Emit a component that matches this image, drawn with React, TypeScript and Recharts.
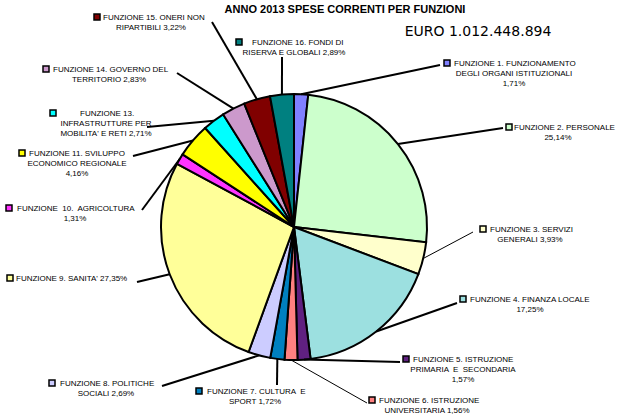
import React from "react";
import { PieChart, Pie, Cell } from "recharts";

const names = [
  "FUNZIONE 1. FUNZIONAMENTO\nDEGLI ORGANI ISTITUZIONALI\n{p}",
  "FUNZIONE 2. PERSONALE\n{p}",
  "FUNZIONE 3. SERVIZI\nGENERALI {p}",
  "FUNZIONE 4. FINANZA LOCALE\n{p}",
  "FUNZIONE 5. ISTRUZIONE\nPRIMARIA  E  SECONDARIA\n{p}",
  "FUNZIONE 6. ISTRUZIONE\nUNIVERSITARIA {p}",
  "FUNZIONE 7. CULTURA  E\nSPORT {p}",
  "FUNZIONE 8. POLITICHE\nSOCIALI {p}",
  "FUNZIONE 9. SANITA' {p}",
  "FUNZIONE  10.  AGRICOLTURA\n{p}",
  "FUNZIONE 11. SVILUPPO\nECONOMICO REGIONALE\n{p}",
  "FUNZIONE 13.\nINFRASTRUTTURE PER\nMOBILITA' E RETI {p}",
  "FUNZIONE 14. GOVERNO DEL\nTERRITORIO {p}",
  "FUNZIONE 15. ONERI NON\nRIPARTIBILI {p}",
  "FUNZIONE 16. FONDI DI\nRISERVA E GLOBALI {p}",
];

const values = [1.71, 25.14, 3.93, 17.25, 1.57, 1.56, 1.72, 2.69, 27.35, 1.31, 4.16, 2.71, 2.83, 3.22, 2.89];

const colors = [
  "#8080FF", "#CCFFCC", "#FFFFCC", "#9CE0E0", "#602080", "#FF8080", "#0080C0", "#CCCCFF",
  "#FFFF99", "#FF33FF", "#FFFF00", "#00FFFF", "#CC99CC", "#800000", "#008080",
];

const title = "ANNO 2013 SPESE CORRENTI PER FUNZIONI";
const subtitle = "EURO 1.012.448.894";

// label layout: marker centre (mx,my), first-line start x (fx), other lines centre (tx), leader end (lx,ly), leader width (w)
const labelLayout = [
  { mx: 447, my: 63, fx: 454, tx: 514, lx: 440, ly: 65, w: 2 },
  { mx: 509, my: 127, fx: 514, tx: 558, lx: 503, ly: 128, w: 2 },
  { mx: 483, my: 229, fx: 490, tx: 530, lx: 473, ly: 232, w: 1 },
  { mx: 463, my: 299, fx: 470, tx: 530, lx: 457, ly: 303, w: 2 },
  { mx: 406, my: 359, fx: 413, tx: 463, lx: 400, ly: 362, w: 2 },
  { mx: 372, my: 400, fx: 379, tx: 427, lx: 367, ly: 403, w: 1 },
  { mx: 199, my: 391, fx: 207, tx: 255, lx: 277, ly: 385, w: 2 },
  { mx: 52, my: 383, fx: 60, tx: 106, lx: 162, ly: 386, w: 2 },
  { mx: 10, my: 278, fx: 16, tx: 70, lx: 137, ly: 282, w: 2 },
  { mx: 9, my: 208, fx: 17, tx: 75, lx: 142, ly: 210, w: 2 },
  { mx: 22, my: 153, fx: 29, tx: 77, lx: 133, ly: 156, w: 2 },
  { mx: 53, my: 113, fx: 80, tx: 106, lx: 147, ly: 127, w: 2 },
  { mx: 46, my: 69, fx: 53, tx: 109, lx: 177, ly: 73, w: 2 },
  { mx: 97, my: 17, fx: 103, tx: 151, lx: 212, ly: 22, w: 2 },
  { mx: 239, my: 42, fx: 252, tx: 294, lx: 282, ly: 57, w: 2 },
];

const data = values.map((v, i) => ({ name: names[i], value: v }));

const FONT = "'Liberation Sans', Arial, sans-serif";

const renderLabel = (props: any) => {
  const { cx, cy, midAngle, outerRadius, index } = props;
  const L = labelLayout[index];
  const rad = Math.PI / 180;
  const ex = cx + outerRadius * Math.cos(-midAngle * rad);
  const ey = cy + outerRadius * Math.sin(-midAngle * rad);
  const pct = values[index].toFixed(2).replace(".", ",") + "%";
  const lines = names[index].replace("{p}", pct).split("\n");
  return (
    <g key={"lbl" + index}>
      <line x1={ex} y1={ey} x2={L.lx} y2={L.ly} stroke="#000" strokeWidth={L.w} />
      <rect x={L.mx - 3} y={L.my - 3} width={6} height={6} fill={colors[index]} stroke="#000" strokeWidth={1.5} />
      {lines.map((t, j) => (
        <text
          key={j}
          x={j === 0 ? L.fx : L.tx}
          y={L.my + j * 10}
          textAnchor={j === 0 ? "start" : "middle"}
          dominantBaseline="central"
          fontFamily={FONT}
          fontSize={8}
          fill="#000"
          style={{ whiteSpace: "pre" }}
        >
          {t}
        </text>
      ))}
    </g>
  );
};

export default function App() {
  return (
    <div style={{ width: 624, height: 418, background: "#fff" }}>
      <style>{`body{margin:0;background:#fff}`}</style>
      <PieChart width={624} height={418} margin={{ top: 0, right: 0, bottom: 0, left: 0 }}>
        <text x={345} y={9} textAnchor="middle" dominantBaseline="central" fontFamily={FONT} fontWeight="bold" fontSize={11} fill="#000">
          {title}
        </text>
        <text x={478} y={31} textAnchor="middle" dominantBaseline="central" fontFamily="'DejaVu Sans', Verdana, sans-serif" fontSize={14} fill="#000">
          {subtitle}
        </text>
        <Pie
          data={data}
          dataKey="value"
          nameKey="name"
          cx={294}
          cy={227}
          outerRadius={133}
          startAngle={90}
          endAngle={-270}
          stroke="#000"
          strokeWidth={2}
          labelLine={false}
          label={renderLabel}
          isAnimationActive={false}
        >
          {data.map((d, i) => (
            <Cell key={i} fill={colors[i]} />
          ))}
        </Pie>
      </PieChart>
    </div>
  );
}
